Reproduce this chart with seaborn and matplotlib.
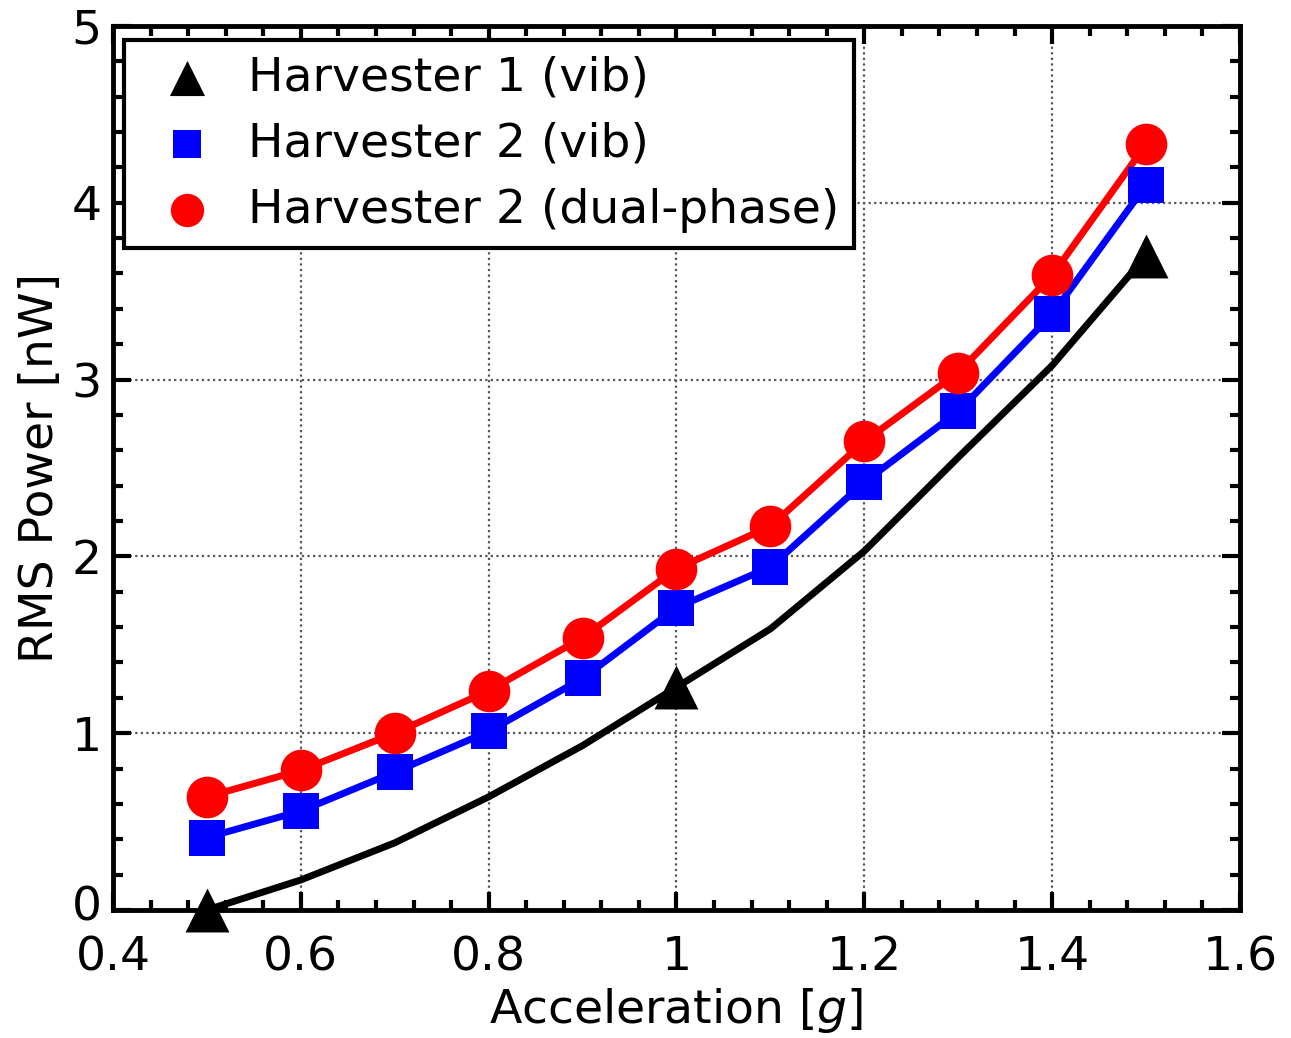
import matplotlib
matplotlib.use("Agg")
import matplotlib.pyplot as plt
import matplotlib.transforms as mtransforms
import seaborn as sns
from matplotlib.ticker import MultipleLocator

# acceleration levels [g]
accel = [0.5, 0.6, 0.7, 0.8, 0.9, 1.0, 1.1, 1.2, 1.3, 1.4, 1.5]

# Harvester 1 (vib): measured points and the fitted curve through them
h1_accel = [0.5, 1.0, 1.5]
h1_power = [0.0, 1.26, 3.70]
h1_curve = [0.0, 0.17, 0.38, 0.64, 0.93, 1.26, 1.59, 2.03, 2.56, 3.08, 3.70]

# Harvester 2
h2_vib = [0.41, 0.56, 0.78, 1.01, 1.31, 1.71, 1.94, 2.42, 2.82, 3.37, 4.10]
h2_dual = [0.64, 0.79, 1.00, 1.24, 1.54, 1.93, 2.17, 2.65, 3.04, 3.59, 4.33]

x_ticks = [0.4, 0.6, 0.8, 1.0, 1.2, 1.4, 1.6]
x_ticklabels = ["0.4", "0.6", "0.8", "1", "1.2", "1.4", "1.6"]
y_ticks = [0, 1, 2, 3, 4, 5]

sns.set_theme(style="ticks")
plt.rcParams["font.family"] = ["DejaVu Sans"]
plt.rcParams["mathtext.fontset"] = "dejavusans"
plt.rcParams["text.color"] = "black"
plt.rcParams["axes.labelcolor"] = "black"

fig, ax = plt.subplots(figsize=(12.91, 10.38), dpi=100)
fig.subplots_adjust(left=0.0875, right=0.9605, top=0.975, bottom=0.1233)

lw = 5
sns.lineplot(x=accel, y=h1_curve, color="black", lw=lw, ax=ax, legend=False, zorder=3)
sns.lineplot(x=accel, y=h2_vib, color="blue", lw=lw, ax=ax, legend=False, zorder=3)
sns.lineplot(x=accel, y=h2_dual, color="red", lw=lw, ax=ax, legend=False, zorder=3)

sns.scatterplot(x=h1_accel, y=h1_power, marker="^", s=1000, color="black",
                edgecolor="black", linewidth=0, ax=ax, zorder=5,
                label="Harvester 1 (vib)", clip_on=False)
sns.scatterplot(x=accel, y=h2_vib, marker="s", s=640, color="blue",
                edgecolor="blue", linewidth=0, ax=ax, zorder=5,
                label="Harvester 2 (vib)")
sns.scatterplot(x=accel, y=h2_dual, marker="o", s=900, color="red",
                edgecolor="red", linewidth=0, ax=ax, zorder=5,
                label="Harvester 2 (dual-phase)")

ax.set_xlim(0.4, 1.6)
ax.set_ylim(0, 5)
ax.set_xticks(x_ticks)
ax.set_xticklabels(x_ticklabels)
ax.set_yticks(y_ticks)
ax.xaxis.set_minor_locator(MultipleLocator(0.04))
ax.yaxis.set_minor_locator(MultipleLocator(0.2))

ax.tick_params(which="both", direction="in", top=True, right=True,
               width=3, labelsize=34, colors="black")
ax.tick_params(which="major", length=13)
ax.tick_params(which="minor", length=7)
ax.tick_params(axis="x", which="major", pad=18)
ax.tick_params(axis="y", which="major", pad=8)

# nudge the "0" on the y axis up so it sits clear of "0.4"
zero_label = ax.get_yticklabels()[0]
zero_label.set_transform(zero_label.get_transform()
                         + mtransforms.ScaledTranslation(0, 5 / 72, fig.dpi_scale_trans))

ax.grid(True, which="major", linestyle=(0, (1, 1.5)), color="#555555", lw=1.6)

for spine in ax.spines.values():
    spine.set_linewidth(3.5)
    spine.set_color("black")

ax.set_xlabel("Acceleration [$g$]", fontsize=34, labelpad=4)
ax.set_ylabel("RMS Power [nW]", fontsize=34, labelpad=6)

leg = ax.legend(loc="upper left", bbox_to_anchor=(0.01, 0.984),
                borderaxespad=0, fontsize=34, frameon=True, fancybox=False,
                framealpha=1, edgecolor="black", markerscale=0.8,
                handletextpad=0.3, borderpad=0.32, labelspacing=0.45,
                handlelength=2.0)
leg.get_frame().set_linewidth(3)

fig.savefig("out.png", dpi=100)
